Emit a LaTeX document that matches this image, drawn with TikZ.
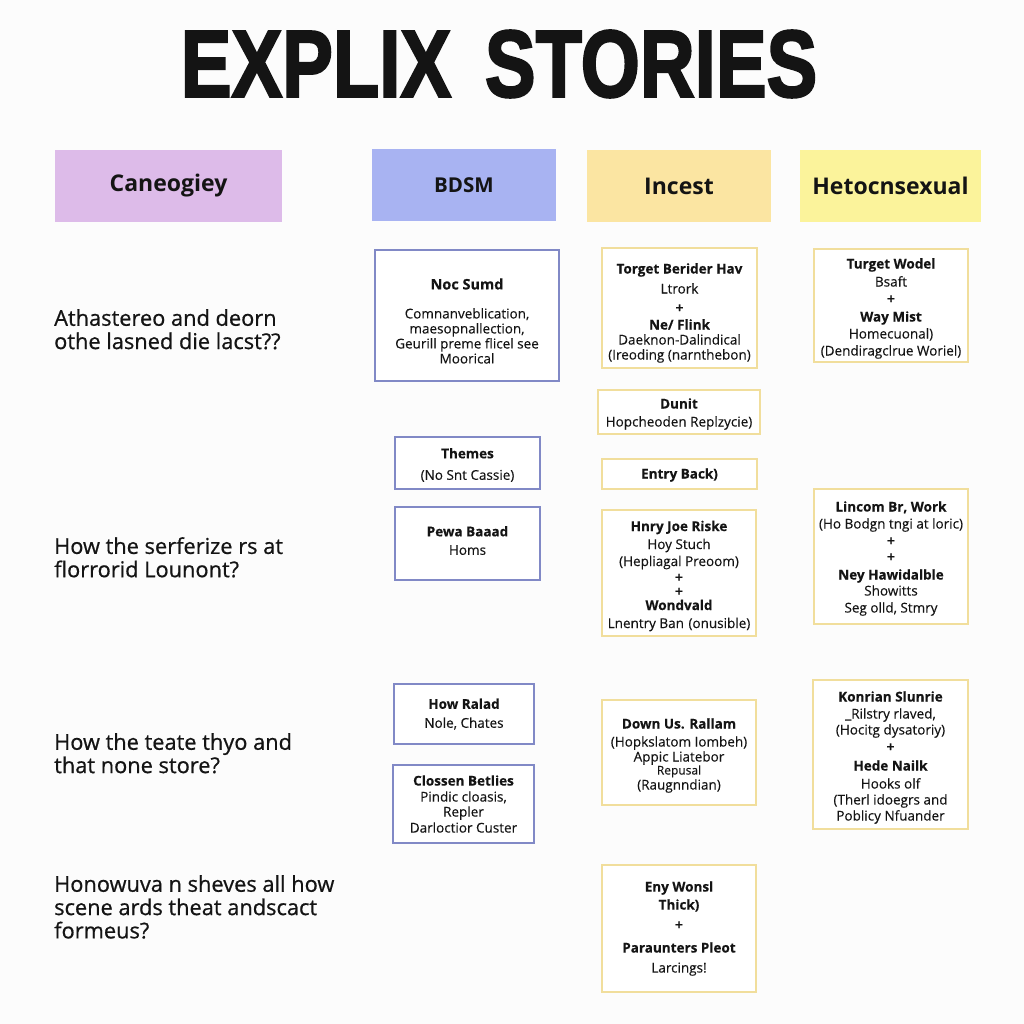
\documentclass[tikz,border=0pt]{standalone}
\usepackage{fontspec}
\setmainfont{Open Sans}
\newfontfamily\titlefont[FakeBold=2.5]{Liberation Sans}
\newfontfamily\semib[FakeBold=0.7]{Open Sans}
\newfontfamily\bodyf[FakeBold=0.25]{Open Sans}
\definecolor{bgc}{HTML}{FCFCFC}
\definecolor{purp}{HTML}{DDBBE9}
\definecolor{blu}{HTML}{A8B3F2}
\definecolor{yel}{HTML}{FBE5A2}
\definecolor{yel2}{HTML}{FBF39B}
\definecolor{bbord}{HTML}{8189C6}
\definecolor{ybord}{HTML}{F1DE9C}
\definecolor{ink}{HTML}{141414}
\newcommand{\pl}{{\bfseries +}}
\begin{document}
\begin{tikzpicture}[x=1pt,y=-1pt,
  hdr/.style={draw=none,anchor=center,inner sep=0pt,font=\fontsize{23}{26}\selectfont\bfseries,text=ink},
  bbox/.style={draw=bbord,line width=2pt,fill=white,inner sep=0pt},
  ybox/.style={draw=ybord,line width=2.6pt,fill=white,inner sep=0pt},
  btx/.style={inner sep=0pt,align=center,text=ink,font=\bodyf\fontsize{13.5}{15}\selectfont},
  ytx/.style={inner sep=0pt,align=center,text=ink,font=\bodyf\fontsize{13.5}{17}\selectfont},
  qtext/.style={anchor=north west,align=left,inner sep=0pt,text=ink,font=\semib\fontsize{21.8}{23.3}\selectfont}]
\fill[bgc] (0,0) rectangle (1024,1024);
\useasboundingbox (0,0) rectangle (1024,1024);
% title
\node[inner sep=0pt,text=ink] (title) at (499,64) {\scalebox{0.8}[1]{\titlefont\fontsize{95}{95}\selectfont\bfseries EXPLIX\, STORIES}};
% headers
\node[hdr,fill=purp,minimum width=227pt,minimum height=72pt] (h1) at (168.5,186) {Caneogiey};
\node[hdr,fill=blu,minimum width=184pt,minimum height=72pt,font=\fontsize{20.5}{22}\selectfont\bfseries] (h2) at (464,185) {BDSM};
\node[hdr,fill=yel,minimum width=184pt,minimum height=72pt] (h3) at (679,186) {Incest};
\node[hdr,fill=yel2,minimum width=181pt,minimum height=72pt] (h4) at (890.5,186) {Hetocnsexual};
% questions
\node[qtext] (q1) at (54,309) {Athastereo and deorn\\othe lasned die lacst??};
\node[qtext] (q2) at (54,537) {How the serferize rs at\\florrorid Lounont?};
\node[qtext] (q3) at (54,733) {How the teate thyo and\\that none store?};
\node[qtext] (q4) at (54,875) {Honowuva n sheves all how\\scene ards theat andscact\\formeus?};
% BDSM column
\node[bbox,minimum width=184pt,minimum height=131pt] (b1) at (467,315.5) {};
\node[btx] (b1t) at ([yshift=-5.5pt]b1.center) {{\bfseries\fontsize{14.5}{16}\selectfont Noc Sumd}\\[14pt]Comnanveblication,\\maesopnallection,\\Geurill preme flicel see\\Moorical};
\node[bbox,minimum width=145pt,minimum height=52pt] (b2) at (467.5,463) {};
\node[btx] (b2t) at ([yshift=-2pt]b2.center) {{\bfseries Themes}\\[6.5pt](No Snt Cassie)};
\node[bbox,minimum width=145pt,minimum height=73pt] (b3) at (467.5,543.5) {};
\node[btx] (b3t) at ([yshift=3pt]b3.center) {{\bfseries Pewa Baaad}\\[3.5pt]Homs};
\node[bbox,minimum width=140pt,minimum height=60pt] (b4) at (464,714) {};
\node[btx] (b4t) at (b4.center) {{\bfseries How Ralad}\\[4pt]Nole, Chates};
\node[bbox,minimum width=141pt,minimum height=78pt] (b5) at (463.5,804) {};
\node[btx] (b5t) at (b5.center) {{\bfseries Clossen Betlies}\\[1pt]Pindic cloasis,\\Repler\\[1pt]Darloctior Custer};
% Incest column
\node[ybox,minimum width=155pt,minimum height=120pt] (i1) at (679.5,308) {};
\node[ytx] (i1t) at ([yshift=-5pt]i1.center) {{\bfseries Torget Berider Hav}\\[3pt]Ltrork\\[2pt]\pl\\{\bfseries Ne/ Flink}\\[-2pt]Daeknon-Dalindical\\[-2pt](Ireoding (narnthebon)};
\node[ybox,minimum width=162pt,minimum height=44pt] (i2) at (679,412) {};
\node[ytx] (i2t) at ([yshift=-2pt]i2.center) {{\bfseries Dunit}\\[1pt]Hopcheoden Replzycie)};
\node[ybox,minimum width=155pt,minimum height=30pt] (i3) at (679.5,474) {};
\node[ytx] (i3t) at ([yshift=-1pt]i3.center) {{\bfseries Entry Back)}};
\node[ybox,minimum width=154pt,minimum height=126pt] (i4) at (679,573) {};
\node[ytx] (i4t) at ([yshift=-3pt]i4.center) {{\bfseries Hnry Joe Riske}\\[1pt]Hoy Stuch\\(Hepliagal Preoom)\\[-1pt]\pl\\[-3pt]\pl\\[-3pt]{\bfseries Wondvald}\\[1pt]Lnentry Ban\,\,(onusible)};
\node[ybox,minimum width=154pt,minimum height=105pt] (i5) at (679,752.5) {};
\node[ytx] (i5t) at ([yshift=-3pt]i5.center) {{\bfseries Down Us. Rallam}\\[1pt](Hopkslatom Iombeh)\\[-2pt]Appic Liatebor\\[-4pt]{\fontsize{12}{13}\selectfont Repusal}\\[-2pt](Raugnndian)};
\node[ybox,minimum width=154pt,minimum height=127pt] (i6) at (679,928.5) {};
\node[ytx] (i6t) at ([yshift=0pt]i6.center) {{\bfseries Eny Wonsl}\\[1pt]{\bfseries Thick)}\\[3pt]\pl\\[6pt]{\bfseries Paraunters Pleot}\\[3pt]Larcings!};
% Hetocnsexual column
\node[ybox,minimum width=154pt,minimum height=113pt] (e1) at (891,305.5) {};
\node[ytx] (e1t) at ([yshift=-3pt]e1.center) {{\bfseries Turget Wodel}\\[1pt]Bsaft\\\pl\\[1pt]{\bfseries Way Mist}\\Homecuonal)\\(Dendiragclrue Woriel)};
\node[ybox,minimum width=154pt,minimum height=135pt] (e2) at (891,556.5) {};
\node[ytx] (e2t) at ([yshift=-2pt]e2.center) {{\bfseries Lincom Br, Work}\\(Ho Bodgn tngi at loric)\\\pl\\[-1pt]\pl\\[1pt]{\bfseries Ney Hawidalble}\\[-1pt]Showitts\\Seg olld, Stmry};
\node[ybox,minimum width=155pt,minimum height=149pt] (e3) at (890.5,754.5) {};
\node[ytx] (e3t) at ([yshift=-3pt]e3.center) {{\bfseries Konrian Slunrie}\\\_Rilstry rlaved,\\[-1pt](Hocitg dysatoriy)\\\pl\\[2pt]{\bfseries Hede Nailk}\\[1pt]Hooks olf\\[-1pt](Therl idoegrs and\\[-1pt]Poblicy Nfuander};
\end{tikzpicture}
\end{document}
